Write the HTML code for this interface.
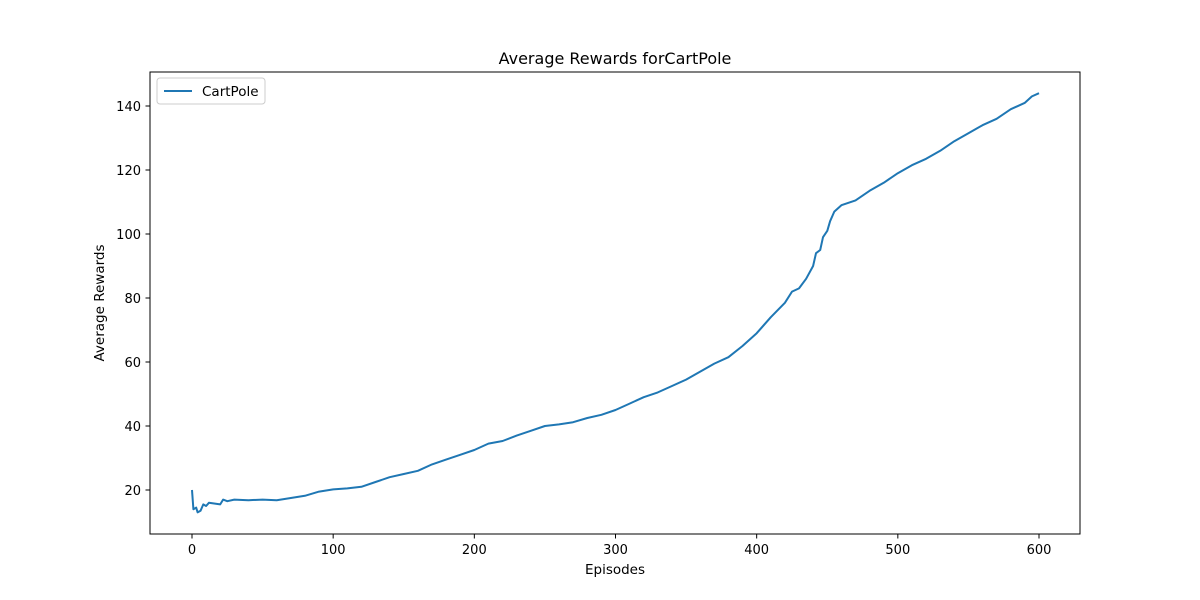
<!DOCTYPE html>
<html><head><meta charset="utf-8">
<style>
body{margin:0;background:#fff;}
svg{display:block;font-family:"DejaVu Sans","Liberation Sans",sans-serif;}
</style></head>
<body>
<svg id="chart" width="1200" height="600" viewBox="0 0 1200 600">
<rect width="1200" height="600" fill="#fff"/>
<text x="615" y="64" font-size="16" text-anchor="middle">Average Rewards forCartPole</text>
<g id="xticks"></g>
<g id="yticks"></g>
<path id="line" fill="none" stroke="#1f77b4" stroke-width="2" stroke-linejoin="round"/>
<rect x="150" y="72" width="930" height="462" fill="none" stroke="#000" stroke-width="1"/>
<text x="615" y="574" font-size="13.5" text-anchor="middle">Episodes</text>
<text transform="translate(104,303) rotate(-90)" font-size="13.5" text-anchor="middle">Average Rewards</text>
<g>
<rect x="157" y="78" width="108" height="26" rx="3" fill="#fff" stroke="#ccc"/>
<line x1="164" y1="91" x2="192" y2="91" stroke="#1f77b4" stroke-width="2"/>
<text x="202" y="96" font-size="13.5">CartPole</text>
</g>
</svg>
<script>
const episodes=[0,1,3,4,6,8,10,12,20,22,25,30,40,50,60,70,80,90,100,110,120,130,140,150,160,170,180,190,200,210,220,230,240,250,260,270,280,290,300,310,320,330,340,350,360,370,380,390,400,410,420,425,430,435,440,442,445,447,450,452,455,460,470,480,490,500,510,520,530,540,550,560,570,580,590,595,600];
const rewards=[20,14,14.5,13,13.5,15.5,15,16,15.5,17,16.5,17,16.8,17,16.8,17.5,18.2,19.5,20.2,20.5,21,22.5,24,25,26,28,29.5,31,32.5,34.5,35.3,37,38.5,40,40.5,41.2,42.5,43.5,45,47,49,50.5,52.5,54.5,57,59.5,61.5,65,69,74,78.5,82,83,86,90,94,95,99,101,104,107,109,110.5,113.5,116,119,121.5,123.5,126,129,131.5,134,136,139,141,143,144];
const xTicks=[0,100,200,300,400,500,600];
const yTicks=[20,40,60,80,100,120,140];
const X=v=>192+v*(847/600);
const Y=v=>490-(v-20)*3.2;
const ns="http://www.w3.org/2000/svg";
const xg=document.getElementById('xticks'),yg=document.getElementById('yticks');
xTicks.forEach(t=>{
 const l=document.createElementNS(ns,'line');
 l.setAttribute('x1',X(t));l.setAttribute('x2',X(t));l.setAttribute('y1',534);l.setAttribute('y2',538.5);l.setAttribute('stroke','#000');
 
 
 xg.appendChild(l);
 const tx=document.createElementNS(ns,'text');
 tx.setAttribute('x',X(t));tx.setAttribute('y',554);tx.setAttribute('font-size','13');tx.setAttribute('text-anchor','middle');tx.textContent=t;
 
 
 xg.appendChild(tx);
});
yTicks.forEach(t=>{
 const l=document.createElementNS(ns,'line');
 l.setAttribute('x1',145.5);l.setAttribute('x2',150);l.setAttribute('y1',Y(t));l.setAttribute('y2',Y(t));l.setAttribute('stroke','#000');
 
 
 yg.appendChild(l);
 const tx=document.createElementNS(ns,'text');
 tx.setAttribute('x',141);tx.setAttribute('y',Y(t)+5);tx.setAttribute('font-size','13');tx.setAttribute('text-anchor','end');tx.textContent=t;
 
 
 yg.appendChild(tx);
});
document.getElementById('line').setAttribute('d',episodes.map((e,i)=>(i?'L':'M')+X(e).toFixed(1)+','+Y(rewards[i]).toFixed(1)).join(''));
</script>
</body></html>
